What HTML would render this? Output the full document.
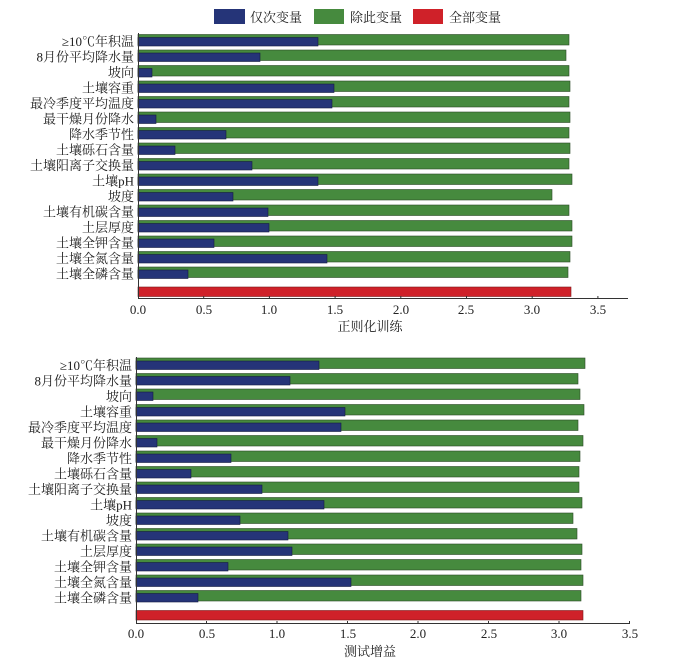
<!DOCTYPE html>
<html><head><meta charset="utf-8"><style>
html,body{margin:0;padding:0;background:#fff}
svg{display:block}
text{font-family:"Liberation Serif","Noto Serif CJK SC",serif;fill:#222}
.g{fill:#468a3e;stroke:#2a4a26;stroke-width:0.6}
.b{fill:#253478;stroke:#141c40;stroke-width:0.6}
.r{fill:#cf2129;stroke:#7a1a1a;stroke-width:0.6}
</style></head><body>
<svg width="677" height="665" viewBox="0 0 677 665" xmlns="http://www.w3.org/2000/svg">
<!-- legend -->
<rect x="214" y="9" width="31" height="15" fill="#253478"/>
<text x="250" y="22" font-size="13">仅次变量</text>
<rect x="314" y="9" width="30" height="15" fill="#468a3e"/>
<text x="350" y="22" font-size="13">除此变量</text>
<rect x="413" y="9" width="30" height="15" fill="#cf2129"/>
<text x="449" y="22" font-size="13">全部变量</text>

<!-- TOP CHART x0=138, 131.4px/unit -->
<g>
<rect class="g" x="138" y="34.5" width="431" height="10.5"/><rect class="b" x="138" y="37.5" width="180" height="8.5"/>
<rect class="g" x="138" y="50" width="428" height="10.5"/><rect class="b" x="138" y="53" width="122" height="8.5"/>
<rect class="g" x="138" y="65.5" width="431" height="10.5"/><rect class="b" x="138" y="68.5" width="14" height="8.5"/>
<rect class="g" x="138" y="81" width="432" height="10.5"/><rect class="b" x="138" y="84" width="196" height="8.5"/>
<rect class="g" x="138" y="96.5" width="431" height="10.5"/><rect class="b" x="138" y="99.5" width="194" height="8.5"/>
<rect class="g" x="138" y="112" width="432" height="10.5"/><rect class="b" x="138" y="115" width="18" height="8.5"/>
<rect class="g" x="138" y="127.5" width="431" height="10.5"/><rect class="b" x="138" y="130.5" width="88" height="8.5"/>
<rect class="g" x="138" y="143" width="432" height="10.5"/><rect class="b" x="138" y="146" width="37" height="8.5"/>
<rect class="g" x="138" y="158.5" width="431" height="10.5"/><rect class="b" x="138" y="161.5" width="114" height="8.5"/>
<rect class="g" x="138" y="174" width="434" height="10.5"/><rect class="b" x="138" y="177" width="180" height="8.5"/>
<rect class="g" x="138" y="189.5" width="414" height="10.5"/><rect class="b" x="138" y="192.5" width="95" height="8.5"/>
<rect class="g" x="138" y="205" width="431" height="10.5"/><rect class="b" x="138" y="208" width="130" height="8.5"/>
<rect class="g" x="138" y="220.5" width="434" height="10.5"/><rect class="b" x="138" y="223.5" width="131" height="8.5"/>
<rect class="g" x="138" y="236" width="434" height="10.5"/><rect class="b" x="138" y="239" width="76" height="8.5"/>
<rect class="g" x="138" y="251.5" width="432" height="10.5"/><rect class="b" x="138" y="254.5" width="189" height="8.5"/>
<rect class="g" x="138" y="267" width="430" height="10.5"/><rect class="b" x="138" y="270" width="50" height="8.5"/>
<rect class="r" x="138" y="287" width="433" height="9.5"/>
</g>
<g font-size="13" text-anchor="end">
<text x="134" y="46">≥10℃年积温</text>
<text x="134" y="61.5">8月份平均降水量</text>
<text x="134" y="77">坡向</text>
<text x="134" y="92.5">土壤容重</text>
<text x="134" y="108">最冷季度平均温度</text>
<text x="134" y="123.5">最干燥月份降水</text>
<text x="134" y="139">降水季节性</text>
<text x="134" y="154.5">土壤砾石含量</text>
<text x="134" y="170">土壤阳离子交换量</text>
<text x="134" y="185.5">土壤pH</text>
<text x="134" y="201">坡度</text>
<text x="134" y="216.5">土壤有机碳含量</text>
<text x="134" y="232">土层厚度</text>
<text x="134" y="247.5">土壤全钾含量</text>
<text x="134" y="263">土壤全氮含量</text>
<text x="134" y="278.5">土壤全磷含量</text>
</g>
<path d="M138.5 33V298.5H628" stroke="#333" fill="none" stroke-width="1"/>
<g stroke="#333"><path d="M203.7 298v-2M269.4 298v-2M335.1 298v-2M400.8 298v-2M466.5 298v-2M532.2 298v-2M597.9 298v-2"/></g>
<g font-size="13" text-anchor="middle">
<text x="138" y="314">0.0</text><text x="204" y="314">0.5</text><text x="269" y="314">1.0</text><text x="335" y="314">1.5</text><text x="401" y="314">2.0</text><text x="466" y="314">2.5</text><text x="532" y="314">3.0</text><text x="598" y="314">3.5</text>
<text x="370" y="331">正则化训练</text>
</g>

<!-- BOTTOM CHART x0=136, 141px/unit -->
<g>
<rect class="g" x="136" y="358" width="449" height="10.5"/><rect class="b" x="136" y="361" width="183" height="8.5"/>
<rect class="g" x="136" y="373.5" width="442" height="10.5"/><rect class="b" x="136" y="376.5" width="154" height="8.5"/>
<rect class="g" x="136" y="389" width="444" height="10.5"/><rect class="b" x="136" y="392" width="17" height="8.5"/>
<rect class="g" x="136" y="404.5" width="448" height="10.5"/><rect class="b" x="136" y="407.5" width="209" height="8.5"/>
<rect class="g" x="136" y="420" width="442" height="10.5"/><rect class="b" x="136" y="423" width="205" height="8.5"/>
<rect class="g" x="136" y="435.5" width="447" height="10.5"/><rect class="b" x="136" y="438.5" width="21" height="8.5"/>
<rect class="g" x="136" y="451" width="444" height="10.5"/><rect class="b" x="136" y="454" width="95" height="8.5"/>
<rect class="g" x="136" y="466.5" width="443" height="10.5"/><rect class="b" x="136" y="469.5" width="55" height="8.5"/>
<rect class="g" x="136" y="482" width="443" height="10.5"/><rect class="b" x="136" y="485" width="126" height="8.5"/>
<rect class="g" x="136" y="497.5" width="446" height="10.5"/><rect class="b" x="136" y="500.5" width="188" height="8.5"/>
<rect class="g" x="136" y="513" width="437" height="10.5"/><rect class="b" x="136" y="516" width="104" height="8.5"/>
<rect class="g" x="136" y="528.5" width="441" height="10.5"/><rect class="b" x="136" y="531.5" width="152" height="8.5"/>
<rect class="g" x="136" y="544" width="446" height="10.5"/><rect class="b" x="136" y="547" width="156" height="8.5"/>
<rect class="g" x="136" y="559.5" width="445" height="10.5"/><rect class="b" x="136" y="562.5" width="92" height="8.5"/>
<rect class="g" x="136" y="575" width="447" height="10.5"/><rect class="b" x="136" y="578" width="215" height="8.5"/>
<rect class="g" x="136" y="590.5" width="445" height="10.5"/><rect class="b" x="136" y="593.5" width="62" height="8.5"/>
<rect class="r" x="136" y="610.5" width="447" height="9.5"/>
</g>
<g font-size="13" text-anchor="end">
<text x="132" y="370">≥10℃年积温</text>
<text x="132" y="385.5">8月份平均降水量</text>
<text x="132" y="401">坡向</text>
<text x="132" y="416.5">土壤容重</text>
<text x="132" y="432">最冷季度平均温度</text>
<text x="132" y="447.5">最干燥月份降水</text>
<text x="132" y="463">降水季节性</text>
<text x="132" y="478.5">土壤砾石含量</text>
<text x="132" y="494">土壤阳离子交换量</text>
<text x="132" y="509.5">土壤pH</text>
<text x="132" y="525">坡度</text>
<text x="132" y="540.5">土壤有机碳含量</text>
<text x="132" y="556">土层厚度</text>
<text x="132" y="571.5">土壤全钾含量</text>
<text x="132" y="587">土壤全氮含量</text>
<text x="132" y="602.5">土壤全磷含量</text>
</g>
<path d="M136.5 357V623.5H630" stroke="#333" fill="none" stroke-width="1"/>
<g stroke="#333"><path d="M206.5 623v-2M277 623v-2M347.5 623v-2M418 623v-2M488.5 623v-2M559 623v-2M629.5 623v-2"/></g>
<g font-size="13" text-anchor="middle">
<text x="136" y="638">0.0</text><text x="207" y="638">0.5</text><text x="277" y="638">1.0</text><text x="348" y="638">1.5</text><text x="418" y="638">2.0</text><text x="489" y="638">2.5</text><text x="559" y="638">3.0</text><text x="630" y="638">3.5</text>
<text x="370" y="656">测试增益</text>
</g>
</svg>
</body></html>
